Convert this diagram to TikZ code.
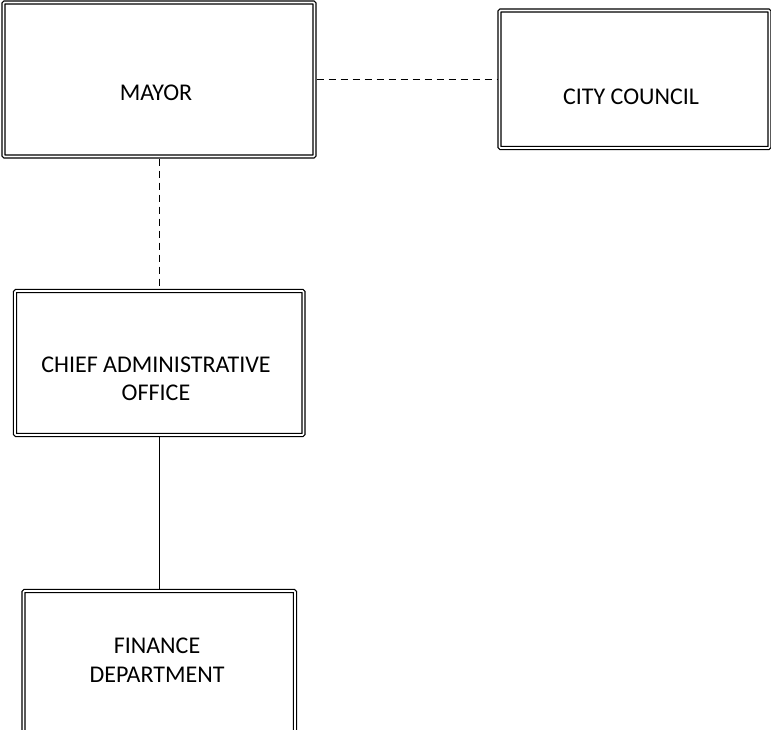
\documentclass[tikz,border=0pt]{standalone}
\usepackage{fontspec}
\setmainfont{Carlito}
\begin{document}
\begin{tikzpicture}[x=1pt,y=-1pt,
  orgbox/.style={draw, double, double distance=1.6pt, line width=1.3pt,
    rounded corners=1pt, inner sep=0pt, outer sep=2.1pt, rectangle},
  boxtext/.style={font=\fontsize{24}{28.5}\selectfont, align=center, inner sep=0pt},
  link/.style={line width=0.8pt},
  dashlink/.style={link, dash pattern=on 7pt off 5pt}]
\useasboundingbox (0,0) rectangle (771,729);
\clip (0,0) rectangle (771,729);

% boxes
\node[orgbox, minimum width=311pt, minimum height=154pt] (mayor) at (159,79.5) {};
\node[orgbox, minimum width=270pt, minimum height=137.5pt] (council) at (634.5,79.25) {};
\node[orgbox, minimum width=288.5pt, minimum height=144pt] (cao) at (159.25,363) {};
\node[orgbox, minimum width=271.5pt, minimum height=150pt] (finance) at (159.25,666) {};

% labels
\node[boxtext] (mayortext) at (156,93) {MAYOR};
\node[boxtext] (counciltext) at (631,97) {CITY COUNCIL};
\node[boxtext] (caotext) at (156,379) {CHIEF ADMINISTRATIVE\\OFFICE};
\node[boxtext] (financetext) at (157,660) {FINANCE\\DEPARTMENT};

% connectors
\draw[dashlink] (mayor.east) -- (mayor.east -| council.west);
\draw[dashlink] (mayor.south) -- (mayor.south |- cao.north);
\draw[link] (cao.south) -- (cao.south |- finance.north);
\end{tikzpicture}
\end{document}
